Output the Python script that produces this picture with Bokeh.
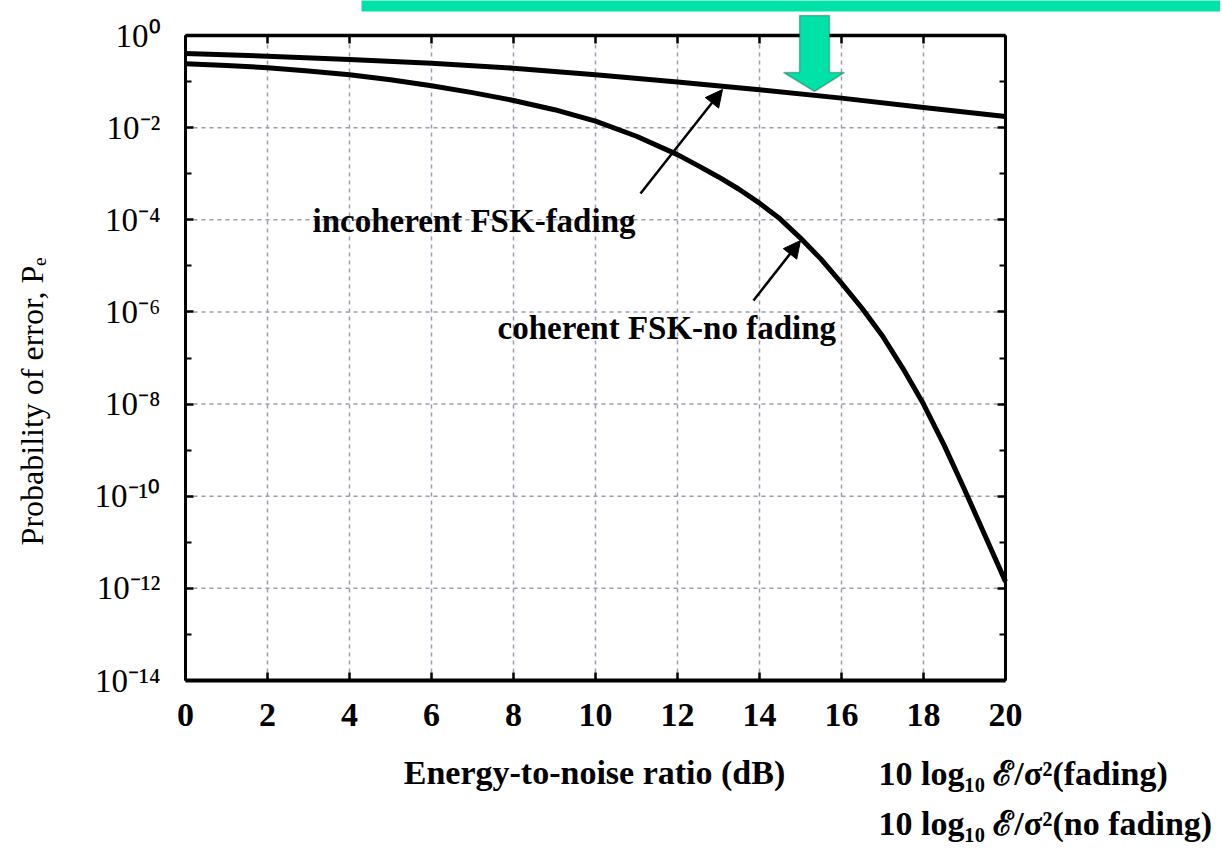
import math
from bokeh.plotting import figure
from bokeh.models import (FixedTicker, CustomJSTickFormatter, LinearAxis, LogAxis,
                          Label, Arrow, NormalHead, BoxAnnotation, PolyAnnotation)
from bokeh.embed import file_html
from bokeh.resources import INLINE

# ---------------- data ----------------
snr_db_incoherent = [0, 2, 4, 6, 8, 10, 12, 14, 16, 18, 20]
pe_incoherent = [0.407, 0.355, 0.302, 0.251, 0.195, 0.141, 0.0977, 0.0661, 0.0437, 0.0275, 0.0174]

snr_db_coherent = [0, 1, 2, 3, 4, 5, 6, 7, 8, 9, 10, 11, 12, 12.5, 13, 13.5, 14, 14.5,
                   15, 15.5, 16, 16.5, 17, 17.5, 18, 18.5, 19, 19.5, 20]
pe_coherent = [0.245, 0.224, 0.200, 0.170, 0.141, 0.110, 0.0813, 0.0575, 0.0389, 0.0245,
               0.0138, 6.5e-3, 2.6e-3, 1.5e-3, 8.5e-4, 4.6e-4, 2.3e-4, 1.05e-4,
               4.0e-5, 1.4e-5, 4.2e-6, 1.2e-6, 3.0e-7, 5.9e-8, 1.0e-8, 1.3e-9,
               1.4e-10, 1.4e-11, 1.4e-12]

x_ticks = [0, 2, 4, 6, 8, 10, 12, 14, 16, 18, 20]
y_major_ticks = [1e0, 1e-2, 1e-4, 1e-6, 1e-8, 1e-10, 1e-12, 1e-14]
y_minor_ticks = [1e-1, 1e-3, 1e-5, 1e-7, 1e-9, 1e-11, 1e-13]

x_label = "Energy-to-noise ratio (dB)"
y_label = "Probability of error, Pₑ"
label_incoherent = "incoherent FSK-fading"
label_coherent = "coherent FSK-no fading"
note_fading = "10 log₁₀ ℰ/σ²(fading)"
note_no_fading = "10 log₁₀ ℰ/σ²(no fading)"

# ---------------- layout (pixel anchors of the plotting box) ----------------
W, H = 1220, 846
FL, FR, FT, FB = 185, 1005, 35, 680          # frame box on the canvas
X0, X1 = 0, 20                               # x data at FL / FR
E0, E1 = 0, -14                              # log10 y at FT / FB
px_per_x = (FR - FL) / (X1 - X0)
px_per_dec = (FB - FT) / (E0 - E1)

def X(px):                                   # canvas px -> x data
    return X0 + (px - FL) / px_per_x

def Y(py):                                   # canvas py -> y data (log axis)
    return 10 ** (E0 - (py - FT) / px_per_dec)

GREEN = "#00E2A8"
SERIF = "Liberation Serif"
GRID = "#9c9cb0"

p = figure(width=W, height=H, x_range=(X(0), X(W)), y_range=(Y(H), Y(0)),
           y_axis_type="log", output_backend="svg", toolbar_location=None,
           min_border=0)
p.background_fill_color = "white"
p.border_fill_color = "white"
p.outline_line_color = None
p.xgrid.visible = False
p.ygrid.visible = False

xt = FixedTicker(ticks=x_ticks, minor_ticks=[])
yt = FixedTicker(ticks=y_major_ticks, minor_ticks=y_minor_ticks)

sup_js = """
const e = Math.round(Math.log10(tick));
const m = {"0":"⁰","1":"¹","2":"²","3":"³","4":"⁴","5":"⁵","6":"⁶","7":"⁷","8":"⁸","9":"⁹","-":"⁻"};
return "10" + String(e).split("").map(c => m[c]).join("");
"""
blank = CustomJSTickFormatter(code="return '';")

xa = p.xaxis[0]
xa.ticker = xt
xa.fixed_location = y_major_ticks[-1]
xa.bounds = (X0, X1)
xa.major_label_text_font = SERIF
xa.major_label_text_font_size = "34px"
xa.major_label_text_font_style = "bold"
xa.major_label_text_color = "black"
xa.major_label_standoff = 23
xa.axis_line_width = 4
xa.major_tick_in = 8
xa.major_tick_out = 0
xa.major_tick_line_width = 2.5
xa.minor_tick_line_color = None

ya = p.yaxis[0]
ya.ticker = yt
ya.fixed_location = X0
ya.bounds = (y_major_ticks[-1], y_major_ticks[0])
ya.formatter = CustomJSTickFormatter(code=sup_js)
ya.major_label_text_font = SERIF
ya.major_label_text_font_size = "33px"
ya.major_label_text_color = "black"
ya.major_label_standoff = 25
ya.axis_line_width = 3
ya.major_tick_in = 8
ya.major_tick_out = 0
ya.major_tick_line_width = 2.5
ya.minor_tick_in = 6
ya.minor_tick_out = 0
ya.minor_tick_line_width = 2

top_axis = LinearAxis(ticker=xt, formatter=blank, fixed_location=y_major_ticks[0],
                      bounds=(X0, X1), major_tick_in=8, major_tick_out=0,
                      major_tick_line_width=2.5, axis_line_width=3.5,
                      minor_tick_line_color=None)
right_axis = LogAxis(ticker=yt, formatter=blank, fixed_location=X1,
                     bounds=(y_major_ticks[-1], y_major_ticks[0]),
                     major_tick_in=8, major_tick_out=0, major_tick_line_width=2.5,
                     axis_line_width=3, minor_tick_in=6, minor_tick_out=0,
                     minor_tick_line_width=2)
p.add_layout(top_axis, "above")
p.add_layout(right_axis, "right")

# dashed grid inside the box, at the tick positions
p.segment(x0=x_ticks, y0=[y_major_ticks[-1]] * len(x_ticks),
          x1=x_ticks, y1=[y_major_ticks[0]] * len(x_ticks),
          line_color=GRID, line_width=1.5, line_dash="4 4")
p.segment(x0=[X0] * len(y_major_ticks), y0=y_major_ticks,
          x1=[X1] * len(y_major_ticks), y1=y_major_ticks,
          line_color=GRID, line_width=1.5, line_dash="4 4")

# ---------------- curves ----------------
p.line(snr_db_incoherent, pe_incoherent, line_color="black", line_width=5,
       line_join="round")
p.line(snr_db_coherent, pe_coherent, line_color="black", line_width=5,
       line_join="round")

# ---------------- annotations ----------------
def head():
    return NormalHead(size=17, fill_color="black", line_color="black")

p.add_layout(Arrow(x_start=X(640), y_start=Y(193), x_end=X(722), y_end=Y(89),
                   line_width=2.5, line_color="black", end=head()))
p.add_layout(Arrow(x_start=X(753), y_start=Y(300), x_end=X(800), y_end=Y(240),
                   line_width=2.5, line_color="black", end=head()))

def text(px, py, s, size, bold=True, align="left", angle=0.0):
    # py is the vertical centre of the capitals
    p.add_layout(Label(x=X(px), y=Y(py), text=s, text_font=SERIF,
                       text_font_size=size, text_color="black",
                       text_font_style="bold" if bold else "normal",
                       text_align=align, text_baseline="middle", angle=angle))

text(312, 220, label_incoherent, "33px")
text(497, 327, label_coherent, "33px")
text(594, 772, x_label, "34px", align="center")
text(31, 401, y_label, "32px", bold=False, align="center", angle=math.pi / 2)
text(878, 773, note_fading, "34px")
text(878, 823, note_no_fading, "34px")

# green highlight bar and arrow at the top
p.add_layout(BoxAnnotation(left=X(361), right=X(W + 10), bottom=Y(11), top=Y(-10),
                           fill_color=GREEN, fill_alpha=1, line_alpha=0))
p.add_layout(PolyAnnotation(
    xs=[X(799), X(829), X(829), X(844), X(814), X(783), X(799)],
    ys=[Y(15), Y(15), Y(72), Y(72), Y(91), Y(72), Y(72)],
    fill_color=GREEN, fill_alpha=1, line_color="#1a1a1a", line_width=1.5))

open("out.html", "w").write(file_html(p, INLINE))
